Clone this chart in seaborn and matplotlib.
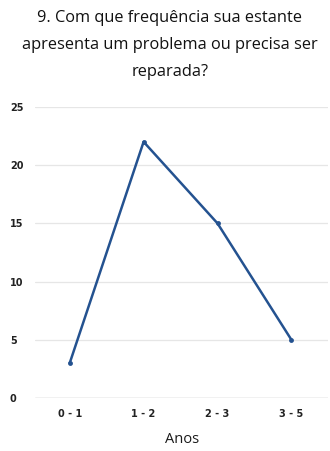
import matplotlib
matplotlib.use("Agg")
import matplotlib.pyplot as plt
import seaborn as sns
import pandas as pd

categories = ["0 - 1", "1 - 2", "2 - 3", "3 - 5"]
counts = [3, 22, 15, 5]
y_ticks = [0, 5, 10, 15, 20, 25]

title = "9. Com que frequência sua estante\napresenta um problema ou precisa ser\nreparada?"

sns.set_theme(style="white")
plt.rcParams["font.family"] = ["Open Sans", "DejaVu Sans"]

df = pd.DataFrame({"cat": categories, "pos": range(len(categories)), "n": counts})

fig = plt.figure(figsize=(3.3, 4.51), dpi=100)
ax = fig.add_axes([0.106, 0.1175, 0.889, 0.6455])

sns.lineplot(data=df, x="pos", y="n", ax=ax, color="#245290", linewidth=1.8,
             marker="o", markersize=3.5, markeredgewidth=0, clip_on=False)

ax.set_ylim(0, 25)
ax.set_xlim(-0.47, 3.5)
ax.set_yticks(y_ticks)
ax.set_yticklabels([str(v) for v in y_ticks], fontsize=7, fontweight="bold",
                   color="#222222", family=["DejaVu Sans"])
ax.set_xticks(range(len(categories)))
ax.set_xticklabels(categories, fontsize=7, fontweight="bold", color="#222222",
                   family=["DejaVu Sans"])
ax.tick_params(axis="both", length=0)
ax.tick_params(axis="y", pad=18)
ax.tick_params(axis="x", pad=8)
for lab in ax.get_yticklabels():
    lab.set_horizontalalignment("left")

ax.grid(axis="y", color="#e6e6e6", linewidth=0.9)
ax.set_axisbelow(True)
for s in ["top", "right", "left", "bottom"]:
    ax.spines[s].set_visible(False)
ax.axhline(0, color="#c8c8c8", linewidth=1, zorder=1)

ax.set_xlabel("Anos", fontsize=10.5, color="#1a1a1a", labelpad=9)
ax.set_ylabel("")

fig.text(0.515, 0.978, title, ha="center", va="top", fontsize=11.8,
         color="#111111", linespacing=1.9)

fig.savefig("out.png", dpi=100, facecolor="white")
